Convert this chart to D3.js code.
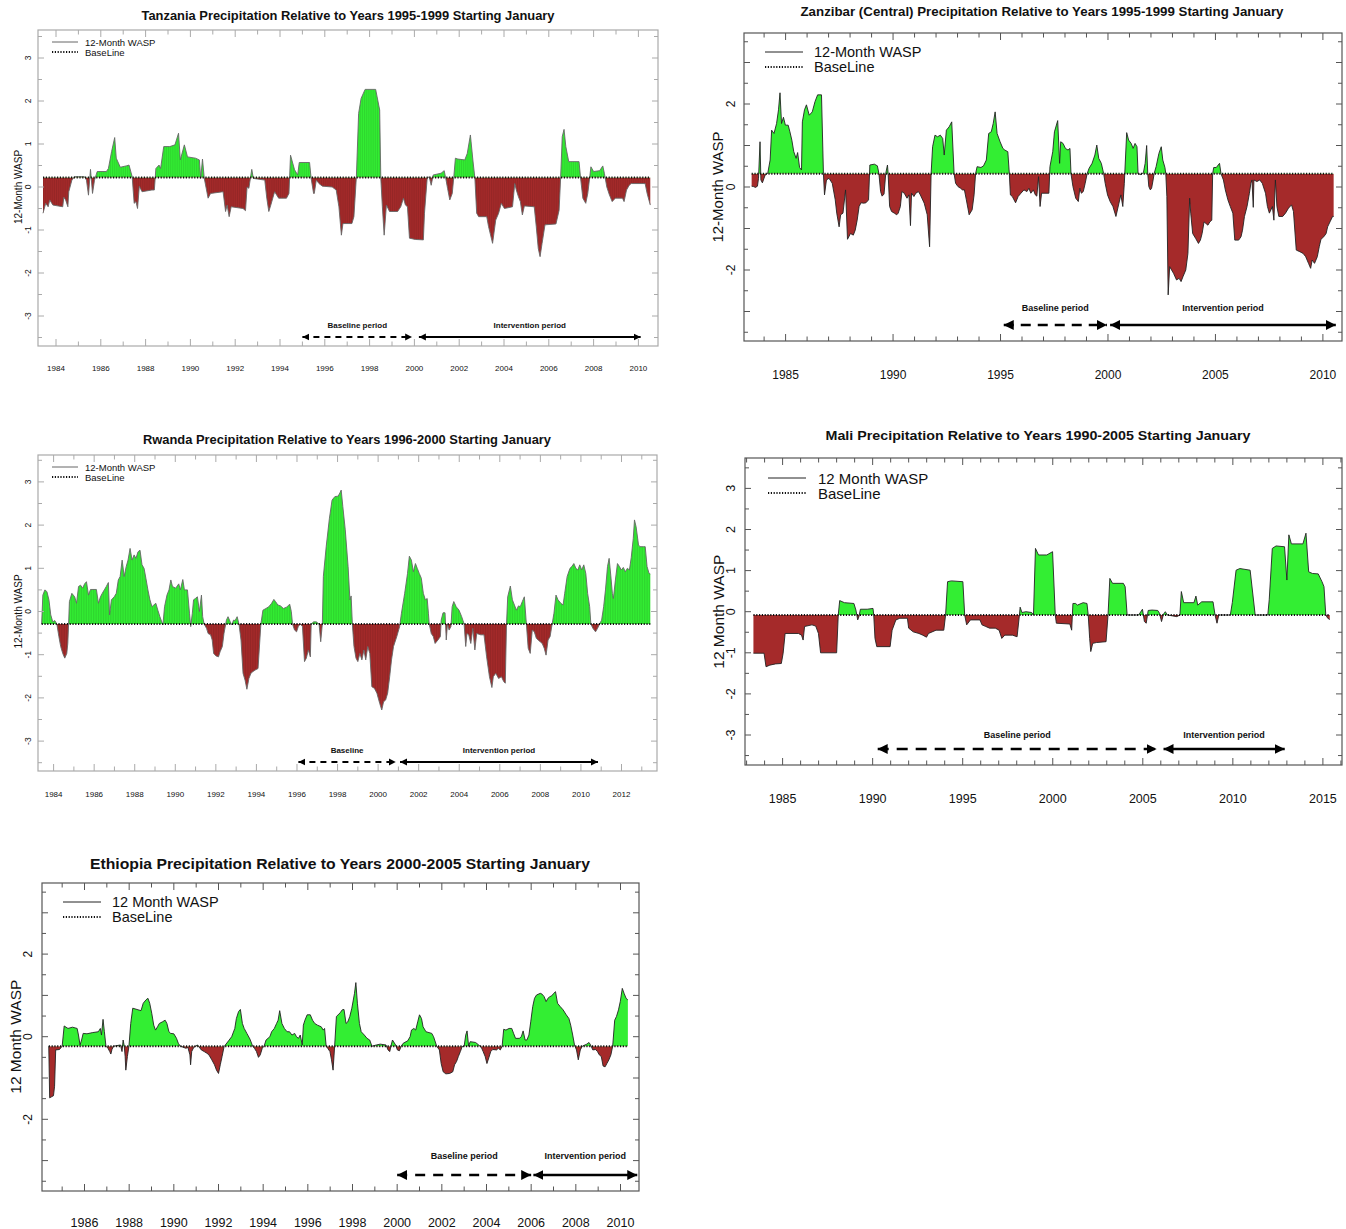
<!DOCTYPE html>
<html>
<head>
<meta charset="utf-8">
<script src="https://cdn.jsdelivr.net/npm/d3@7"></script>
<style>
  body { margin: 0; background: #fff; }
  svg { display: block; }
  text { font-family: "Liberation Sans", Arial, Helvetica, sans-serif; }
</style>
</head>
<body>
<svg id="chart" width="1346" height="1229"></svg>
<script>
// ---- data (year, 12-month WASP) ----
const tzYears = [1983.42,1983.54,1983.65,1983.72,1983.86,1984.30,1984.35,1984.43,1984.53,1984.57,1984.71,1984.83,1985.27,1985.36,1985.45,1985.54,1985.63,1985.72,1985.84,1986.25,1986.34,1986.48,1986.62,1986.69,1986.87,1987.13,1987.26,1987.40,1987.49,1987.57,1987.64,1987.72,1987.84,1988.28,1988.39,1988.46,1988.60,1988.67,1988.81,1989.08,1989.31,1989.47,1989.55,1989.73,1989.87,1990.23,1990.40,1990.46,1990.54,1990.62,1990.72,1990.79,1990.90,1991.46,1991.57,1991.64,1991.73,1991.82,1992.35,1992.46,1992.53,1992.61,1992.74,1992.81,1993.32,1993.41,1993.50,1993.59,1993.76,1993.94,1994.29,1994.40,1994.47,1994.65,1994.79,1994.86,1995.32,1995.39,1995.50,1995.53,1995.62,1995.74,1995.89,1996.33,1996.51,1996.63,1996.74,1996.81,1997.21,1997.30,1997.41,1997.51,1997.62,1997.80,1998.27,1998.45,1998.50,1998.57,1998.65,1998.75,1998.89,1999.25,1999.39,1999.51,1999.60,1999.69,1999.78,2000.04,2000.40,2000.45,2000.57,2000.66,2000.75,2000.84,2001.19,2001.33,2001.40,2001.48,2001.58,2001.69,2001.76,2001.83,2001.94,2002.25,2002.36,2002.50,2002.61,2002.70,2002.78,2002.87,2003.23,2003.31,2003.49,2003.63,2003.76,2003.88,2004.02,2004.38,2004.48,2004.55,2004.64,2004.73,2004.82,2004.91,2005.35,2005.44,2005.53,2005.61,2005.70,2005.83,2006.32,2006.46,2006.53,2006.60,2006.68,2006.76,2006.89,2007.35,2007.42,2007.52,2007.65,2007.74,2007.83,2007.88,2008.00,2008.27,2008.41,2008.48,2008.59,2008.71,2008.83,2008.97,2009.29,2009.36,2009.47,2009.59,2009.68,2010.30,2010.39,2010.53];
const tzValues = [-0.61,-0.38,-0.46,-0.30,-0.42,-0.46,-0.24,-0.30,-0.46,-0.11,0.16,0.24,0.24,0.16,-0.19,0.41,-0.15,0.16,0.36,0.36,0.43,0.82,1.15,0.67,0.46,0.49,0.51,0.24,-0.38,-0.34,-0.50,0.02,-0.11,-0.07,-0.07,0.43,0.51,0.43,0.94,0.94,0.98,1.25,0.63,0.98,0.70,0.67,0.63,0.20,0.65,0.20,-0.07,-0.26,-0.15,-0.11,-0.57,-0.42,-0.69,-0.46,-0.50,-0.55,0.00,-0.03,0.41,0.20,0.16,-0.26,-0.57,-0.42,-0.11,-0.26,-0.26,-0.15,0.74,0.40,0.28,0.57,0.57,0.20,-0.15,-0.15,0.16,0.08,0.02,0.00,-0.07,-0.46,-1.12,-0.85,-0.85,-0.69,0.24,1.71,2.06,2.27,2.27,1.79,0.20,-0.46,-1.12,-0.42,-0.57,-0.57,-0.46,-0.26,-0.42,-0.46,-1.19,-1.22,-1.23,-0.61,0.20,0.24,0.04,0.28,0.32,0.38,0.20,-0.03,-0.30,-0.15,0.24,0.67,0.65,0.63,0.78,1.21,0.63,0.20,-0.61,-0.69,-0.69,-0.92,-1.31,-0.77,-0.61,-0.38,-0.50,-0.46,0.08,-0.07,-0.22,-0.34,-0.65,-0.44,-0.46,-0.92,-1.43,-1.62,-1.31,-0.88,-0.86,-0.54,0.24,1.17,1.34,0.94,0.59,0.59,0.20,-0.26,-0.38,-0.15,0.24,0.47,0.36,0.38,0.49,0.32,0.00,-0.19,-0.34,-0.26,-0.26,-0.34,-0.07,0.04,0.08,0.08,-0.15,-0.42];
const tzBaseline = 0.22;

const zzYears = [1983.42,1983.51,1983.60,1983.69,1983.74,1983.81,1983.85,1983.92,1984.05,1984.17,1984.28,1984.35,1984.46,1984.58,1984.67,1984.74,1984.81,1984.90,1984.99,1985.12,1985.20,1985.29,1985.38,1985.49,1985.56,1985.65,1985.74,1985.78,1985.88,1985.97,1986.10,1986.24,1986.37,1986.49,1986.67,1986.76,1986.81,1986.90,1987.02,1987.17,1987.31,1987.38,1987.49,1987.56,1987.67,1987.79,1987.88,1988.02,1988.15,1988.24,1988.33,1988.42,1988.51,1988.63,1988.74,1988.86,1988.92,1989.13,1989.27,1989.34,1989.42,1989.49,1989.58,1989.66,1989.74,1989.77,1989.84,1989.93,1990.06,1990.17,1990.24,1990.34,1990.41,1990.52,1990.65,1990.74,1990.81,1990.86,1990.97,1991.06,1991.18,1991.27,1991.45,1991.59,1991.70,1991.77,1991.84,1991.95,1992.07,1992.20,1992.31,1992.38,1992.48,1992.61,1992.73,1992.84,1992.91,1993.02,1993.14,1993.23,1993.32,1993.41,1993.54,1993.68,1993.77,1993.84,1993.91,1994.09,1994.21,1994.34,1994.45,1994.57,1994.66,1994.75,1994.84,1994.98,1995.11,1995.20,1995.34,1995.41,1995.46,1995.55,1995.70,1995.82,1995.95,1996.09,1996.23,1996.32,1996.41,1996.53,1996.62,1996.69,1996.77,1996.84,1996.91,1997.25,1997.30,1997.43,1997.51,1997.66,1997.75,1997.80,1997.91,1998.02,1998.14,1998.23,1998.28,1998.37,1998.50,1998.62,1998.69,1998.76,1998.85,1998.94,1999.03,1999.12,1999.26,1999.39,1999.48,1999.57,1999.69,1999.80,1999.87,1999.98,2000.10,2000.23,2000.37,2000.51,2000.60,2000.69,2000.76,2000.87,2000.96,2001.08,2001.17,2001.26,2001.35,2001.40,2001.53,2001.65,2001.73,2001.80,2001.85,2001.90,2001.97,2002.03,2002.10,2002.15,2002.24,2002.37,2002.48,2002.55,2002.65,2002.69,2002.74,2002.80,2002.87,2002.96,2003.05,2003.19,2003.31,2003.40,2003.49,2003.62,2003.72,2003.80,2003.85,2003.94,2004.08,2004.21,2004.30,2004.38,2004.47,2004.56,2004.65,2004.74,2004.83,2004.87,2004.92,2005.04,2005.19,2005.26,2005.37,2005.46,2005.58,2005.69,2005.81,2005.90,2006.08,2006.19,2006.26,2006.35,2006.47,2006.58,2006.65,2006.70,2006.76,2006.79,2006.93,2007.06,2007.18,2007.33,2007.42,2007.51,2007.65,2007.72,2007.79,2007.86,2007.95,2008.13,2008.26,2008.40,2008.54,2008.63,2008.76,2008.93,2009.08,2009.20,2009.33,2009.43,2009.50,2009.61,2009.74,2009.83,2009.91,2010.04,2010.15,2010.22,2010.33,2010.45,2010.50];
const zzValues = [0.02,0.01,-0.01,0.02,0.21,1.09,0.17,0.10,0.29,0.33,0.65,1.37,1.29,1.53,1.86,2.27,1.53,1.68,1.49,1.49,1.33,1.13,0.85,0.69,0.83,0.47,0.41,1.57,1.86,1.98,1.73,1.81,2.06,2.22,2.22,0.32,-0.19,0.17,0.21,0.09,-0.31,-0.63,-0.96,-0.67,-0.63,-0.07,-1.26,-1.12,-1.16,-1.04,-0.80,-0.47,-0.38,-0.39,-0.38,-0.31,0.53,0.55,0.51,0.33,-0.11,-0.22,-0.17,0.33,0.53,0.33,-0.47,-0.59,-0.63,-0.67,-0.63,-0.47,-0.11,-0.15,-0.27,-0.19,-0.93,-0.15,-0.23,-0.15,-0.11,-0.19,-0.39,-0.67,-1.44,0.32,0.97,1.25,1.21,1.25,1.17,0.77,1.37,1.45,1.57,0.32,0.09,0.01,-0.03,-0.07,-0.07,-0.31,-0.67,-0.55,-0.19,0.32,0.49,0.47,0.51,0.65,1.29,1.33,1.53,1.81,1.29,1.09,0.93,0.89,0.85,0.32,-0.19,-0.23,-0.38,-0.23,-0.15,-0.07,-0.11,-0.03,-0.15,-0.07,-0.19,-0.22,0.25,-0.47,-0.15,-0.15,0.49,0.85,1.33,1.60,0.57,1.09,1.05,0.93,0.89,0.93,0.32,0.01,-0.27,-0.35,-0.03,-0.15,-0.11,0.09,0.32,0.45,0.57,0.77,1.01,0.69,0.57,0.32,0.09,-0.19,-0.35,-0.47,-0.71,-0.39,-0.19,-0.47,0.09,1.31,1.13,1.05,0.93,1.05,0.97,0.32,0.30,0.35,0.57,1.00,0.32,0.01,-0.07,-0.03,0.17,0.33,0.49,0.81,0.97,0.65,0.47,0.32,-0.23,-2.60,-1.92,-2.00,-2.08,-2.24,-2.20,-2.28,-2.16,-2.00,-1.60,-0.27,-0.63,-1.12,-1.24,-1.36,-1.28,-1.12,-0.84,-0.88,-0.92,-0.84,-0.80,0.32,0.47,0.47,0.57,0.32,0.17,-0.07,-0.31,-0.47,-0.63,-1.28,-1.28,-1.20,-1.04,-0.71,-0.47,-0.15,0.09,0.17,-0.49,0.17,0.13,0.17,0.09,-0.15,-0.47,-0.63,-0.47,-0.80,0.17,-0.47,-0.71,-0.71,-0.63,-0.51,-0.43,-0.59,-1.52,-1.56,-1.60,-1.68,-1.84,-1.96,-1.76,-1.84,-1.68,-1.44,-1.26,-1.20,-1.12,-0.96,-0.84,-0.71,-0.71];
const zzBaseline = 0.32;

const rwYears = [1983.41,1983.47,1983.57,1983.67,1983.77,1983.86,1983.96,1984.06,1984.16,1984.26,1984.35,1984.45,1984.55,1984.65,1984.70,1984.74,1984.78,1984.90,1985.04,1985.13,1985.23,1985.33,1985.43,1985.53,1985.62,1985.72,1985.82,1986.11,1986.21,1986.31,1986.40,1986.50,1986.60,1986.70,1986.76,1986.85,1986.99,1987.09,1987.19,1987.28,1987.38,1987.48,1987.58,1987.67,1987.77,1987.87,1987.97,1988.06,1988.16,1988.26,1988.36,1988.46,1988.55,1988.65,1988.75,1988.85,1988.94,1989.04,1989.14,1989.24,1989.39,1989.47,1989.59,1989.69,1989.78,1989.86,1990.02,1990.17,1990.25,1990.37,1990.45,1990.60,1990.70,1990.76,1990.84,1990.90,1990.99,1991.09,1991.19,1991.29,1991.35,1991.42,1991.54,1991.62,1991.74,1991.82,1991.89,1992.01,1992.13,1992.21,1992.32,1992.40,1992.52,1992.60,1992.71,1992.79,1992.87,1992.95,1993.05,1993.14,1993.24,1993.34,1993.44,1993.53,1993.63,1993.73,1993.83,1993.96,1994.08,1994.22,1994.32,1994.47,1994.61,1994.75,1994.86,1994.94,1995.06,1995.19,1995.33,1995.49,1995.64,1995.72,1995.78,1995.88,1995.98,1996.07,1996.17,1996.27,1996.37,1996.46,1996.56,1996.66,1996.70,1996.82,1996.95,1997.09,1997.17,1997.25,1997.30,1997.44,1997.60,1997.73,1997.87,1998.03,1998.12,1998.18,1998.26,1998.38,1998.52,1998.61,1998.67,1998.73,1998.81,1998.91,1999.00,1999.10,1999.20,1999.30,1999.39,1999.49,1999.59,1999.69,1999.82,1999.94,2000.08,2000.18,2000.27,2000.37,2000.47,2000.57,2000.66,2000.76,2000.92,2001.06,2001.15,2001.31,2001.45,2001.54,2001.64,2001.74,2001.84,2001.93,2002.03,2002.13,2002.23,2002.33,2002.42,2002.48,2002.52,2002.62,2002.72,2002.81,2002.95,2003.07,2003.11,2003.20,2003.30,2003.36,2003.42,2003.50,2003.59,2003.65,2003.73,2003.85,2003.99,2004.12,2004.24,2004.32,2004.38,2004.47,2004.57,2004.67,2004.77,2004.86,2005.06,2005.22,2005.35,2005.49,2005.61,2005.68,2005.80,2005.94,2006.08,2006.19,2006.27,2006.33,2006.39,2006.52,2006.62,2006.72,2006.82,2006.92,2007.01,2007.11,2007.21,2007.31,2007.40,2007.50,2007.60,2007.70,2007.80,2007.89,2007.99,2008.09,2008.19,2008.28,2008.38,2008.48,2008.58,2008.67,2008.77,2008.87,2009.01,2009.12,2009.20,2009.32,2009.46,2009.55,2009.65,2009.75,2009.85,2009.94,2010.04,2010.14,2010.24,2010.33,2010.43,2010.49,2010.59,2010.72,2010.82,2010.92,2011.02,2011.12,2011.21,2011.31,2011.39,2011.47,2011.55,2011.60,2011.70,2011.80,2011.90,2011.99,2012.09,2012.19,2012.29,2012.39,2012.48,2012.58,2012.64,2012.72,2012.84,2012.91,2013.07,2013.17,2013.26,2013.36,2013.42];
const rwValues = [-0.29,0.38,0.50,0.46,0.27,-0.08,-0.24,-0.21,-0.29,-0.58,-0.81,-0.97,-1.08,-0.97,-0.74,-0.29,0.23,0.42,0.34,0.19,0.58,0.61,0.54,0.64,0.69,0.38,0.51,0.51,0.19,0.34,0.42,0.50,0.58,0.67,-0.08,0.27,0.34,0.42,0.73,0.81,1.19,0.81,1.04,1.19,1.46,1.19,1.31,1.23,1.38,1.42,1.08,1.00,0.77,0.50,0.27,0.11,0.15,0.19,0.03,-0.12,-0.31,0.11,0.38,0.50,0.73,0.58,0.54,0.64,0.50,0.74,0.50,0.50,-0.04,-0.35,-0.04,0.27,0.30,0.34,0.00,0.38,-0.12,-0.29,-0.39,-0.51,-0.54,-0.66,-0.97,-1.03,-1.05,-0.93,-0.81,-0.51,-0.20,-0.12,-0.24,-0.31,-0.20,-0.21,-0.12,-0.29,-0.66,-1.43,-1.59,-1.80,-1.55,-1.43,-1.39,-1.35,-1.32,-0.29,0.03,0.07,0.11,0.19,0.28,0.23,0.15,0.13,0.07,0.10,0.17,0.00,-0.29,-0.43,-0.47,-0.34,-0.29,-0.35,-1.16,-1.08,-0.89,-1.05,-0.29,-0.24,-0.24,-0.29,-0.70,-0.29,0.81,1.50,2.16,2.58,2.66,2.67,2.75,2.81,2.43,1.89,1.04,0.27,0.36,-0.29,-0.81,-1.08,-1.16,-0.97,-1.12,-0.89,-1.12,-0.81,-0.97,-1.74,-1.78,-1.89,-2.13,-2.28,-2.09,-2.05,-1.89,-1.51,-1.12,-0.81,-0.58,-0.35,-0.04,0.42,0.88,1.28,1.19,0.92,1.11,1.00,0.88,0.77,0.42,0.27,0.30,-0.04,-0.29,-0.51,-0.58,-0.74,-0.66,-0.58,-0.20,-0.03,-0.03,-0.66,-0.29,-0.43,-0.35,0.11,0.23,0.11,0.03,-0.12,-0.29,-0.81,-0.51,-0.54,-0.74,-0.39,-0.89,-0.51,-0.54,-0.54,-1.05,-1.51,-1.76,-1.51,-1.43,-1.55,-1.51,-1.62,-1.66,-0.29,0.34,0.59,0.27,0.15,0.03,0.13,0.11,0.23,0.34,-0.29,-0.85,-0.97,-0.43,-0.47,-0.62,-0.66,-0.70,-0.74,-0.85,-1.01,-0.66,-0.58,-0.29,-0.04,0.38,0.27,0.19,0.15,0.42,0.81,1.00,1.04,1.11,1.00,0.96,1.08,0.96,1.08,0.88,0.42,0.11,-0.29,-0.39,-0.47,-0.39,-0.29,-0.20,0.11,0.50,1.04,1.23,0.84,0.42,0.30,0.73,1.11,1.04,0.96,1.02,0.92,1.00,0.96,1.25,1.69,2.12,1.96,1.54,1.50,1.50,1.50,1.04,0.88,0.87];
const rwBaseline = -0.29;

const mlYears = [1983.38,1983.97,1984.08,1984.29,1984.61,1984.93,1985.03,1985.14,1985.88,1986.05,1986.14,1986.22,1986.63,1986.84,1986.99,1987.11,1988.00,1988.09,1988.17,1988.43,1988.96,1989.07,1989.17,1989.24,1989.32,1989.70,1990.02,1990.06,1990.13,1990.23,1990.97,1991.08,1991.29,1991.51,1991.93,1992.00,1992.25,1992.57,1992.78,1992.99,1993.10,1993.52,1993.95,1994.05,1994.16,1994.37,1995.01,1995.11,1995.22,1995.43,1995.96,1996.07,1996.28,1996.49,1996.81,1997.02,1997.17,1997.34,1997.76,1998.02,1998.15,1998.19,1998.29,1998.51,1998.83,1998.93,1999.04,1999.21,1999.67,1999.99,2000.14,2000.20,2000.95,2001.05,2001.12,2001.27,2001.37,2001.69,2001.90,2001.97,2002.05,2002.11,2002.22,2002.43,2002.96,2003.07,2003.17,2003.32,2003.92,2004.02,2004.13,2004.77,2004.98,2005.09,2005.19,2005.30,2005.51,2005.83,2005.93,2006.04,2006.15,2006.25,2006.36,2006.89,2007.06,2007.14,2007.27,2007.84,2007.95,2008.05,2008.27,2008.90,2009.01,2009.12,2009.22,2009.86,2009.97,2010.18,2010.39,2010.96,2011.24,2011.94,2012.02,2012.19,2012.40,2012.87,2013.00,2013.11,2013.25,2013.89,2014.06,2014.21,2014.42,2014.74,2014.95,2015.06,2015.16,2015.27,2015.38];
const mlValues = [-1.01,-1.01,-1.34,-1.30,-1.27,-1.26,-1.01,-0.53,-0.53,-0.57,-0.69,-0.36,-0.32,-0.35,-0.53,-1.00,-1.00,-0.08,0.27,0.22,0.20,0.04,-0.20,-0.12,0.06,0.06,0.08,-0.08,-0.65,-0.85,-0.85,-0.45,-0.20,-0.16,-0.16,-0.40,-0.49,-0.53,-0.57,-0.62,-0.53,-0.45,-0.45,-0.08,0.73,0.75,0.73,-0.08,-0.32,-0.20,-0.20,-0.32,-0.36,-0.40,-0.40,-0.45,-0.65,-0.57,-0.57,-0.61,-0.08,0.11,-0.02,0.00,-0.02,-0.08,1.54,1.38,1.38,1.46,-0.08,-0.28,-0.30,-0.45,0.20,0.20,0.16,0.22,0.20,-0.08,-0.65,-0.97,-0.77,-0.75,-0.73,-0.08,0.81,0.69,0.69,0.61,-0.08,-0.08,0.06,-0.24,-0.28,0.03,0.04,0.03,-0.04,-0.24,-0.06,0.00,-0.08,-0.12,-0.08,0.49,0.22,0.22,0.38,0.16,0.24,0.24,-0.08,-0.28,-0.08,-0.08,0.22,1.01,1.05,1.01,-0.08,-0.08,0.29,1.54,1.60,1.58,0.77,1.87,1.65,1.65,1.91,0.97,0.93,0.92,0.73,0.61,-0.08,-0.16,-0.19];
const mlBaseline = -0.08;

const etYears = [1984.40,1984.44,1984.54,1984.61,1984.66,1984.71,1984.88,1985.00,1985.09,1985.26,1985.46,1985.67,1985.73,1985.80,1985.87,1985.94,1986.11,1986.37,1986.62,1986.71,1986.76,1986.83,1986.89,1986.96,1987.05,1987.13,1987.18,1987.23,1987.30,1987.61,1987.68,1987.73,1987.78,1987.82,1987.85,1987.92,1987.99,1988.07,1988.16,1988.53,1988.63,1988.75,1988.84,1988.92,1989.01,1989.10,1989.18,1989.27,1989.35,1989.49,1989.61,1989.69,1989.78,1989.86,1990.00,1990.12,1990.20,1990.29,1990.54,1990.63,1990.72,1990.75,1990.80,1990.89,1991.06,1991.23,1991.36,1991.48,1991.57,1991.70,1991.82,1991.91,1992.00,1992.08,1992.16,1992.25,1992.45,1992.59,1992.73,1992.80,1992.90,1992.98,1993.07,1993.15,1993.27,1993.41,1993.53,1993.61,1993.70,1993.79,1993.87,1993.96,1994.04,1994.13,1994.30,1994.38,1994.50,1994.60,1994.67,1994.74,1994.84,1994.95,1995.07,1995.18,1995.29,1995.41,1995.49,1995.58,1995.66,1995.75,1995.80,1995.87,1995.97,1996.11,1996.21,1996.31,1996.43,1996.60,1996.69,1996.75,1996.82,1996.89,1996.99,1997.06,1997.13,1997.20,1997.28,1997.45,1997.54,1997.62,1997.71,1997.79,1997.88,1997.97,1998.09,1998.15,1998.22,1998.31,1998.39,1998.53,1998.65,1998.77,1998.87,1999.07,1999.24,1999.50,1999.59,1999.67,1999.72,1999.79,1999.93,2000.01,2000.10,2000.18,2000.27,2000.47,2000.58,2000.64,2000.75,2000.83,2000.92,2001.00,2001.09,2001.16,2001.29,2001.55,2001.63,2001.77,2001.89,2001.97,2002.06,2002.18,2002.35,2002.49,2002.57,2002.66,2002.74,2002.83,2002.91,2003.00,2003.07,2003.13,2003.20,2003.27,2003.51,2003.65,2003.77,2003.85,2003.94,2004.02,2004.11,2004.19,2004.28,2004.45,2004.53,2004.62,2004.70,2004.77,2004.87,2005.01,2005.13,2005.22,2005.30,2005.47,2005.56,2005.64,2005.73,2005.81,2005.90,2005.98,2006.07,2006.15,2006.24,2006.41,2006.49,2006.58,2006.67,2006.75,2006.84,2006.92,2007.01,2007.09,2007.18,2007.30,2007.43,2007.57,2007.69,2007.77,2007.86,2007.94,2008.03,2008.11,2008.20,2008.29,2008.49,2008.59,2008.66,2008.76,2008.88,2008.97,2009.05,2009.14,2009.22,2009.31,2009.39,2009.48,2009.57,2009.65,2009.74,2009.82,2009.91,2009.99,2010.08,2010.16,2010.25,2010.33];
const etValues = [-0.23,-1.48,-1.45,-1.43,-1.20,-0.32,-0.31,-0.23,0.26,0.20,0.23,0.20,0.04,-0.20,-0.08,0.08,0.07,0.10,0.12,0.20,0.04,0.42,0.12,-0.23,-0.28,-0.36,-0.42,-0.31,-0.23,-0.20,-0.36,-0.08,-0.23,-0.48,-0.81,-0.48,-0.23,0.32,0.69,0.63,0.81,0.89,0.93,0.81,0.57,0.28,0.16,0.24,0.32,0.36,0.40,0.32,0.12,0.08,0.07,-0.04,-0.16,-0.23,-0.28,-0.26,-0.44,-0.68,-0.36,-0.26,-0.20,-0.32,-0.36,-0.40,-0.44,-0.56,-0.68,-0.81,-0.89,-0.68,-0.48,-0.24,-0.10,0.00,0.20,0.44,0.61,0.66,0.32,0.20,0.08,-0.06,-0.23,-0.28,-0.36,-0.50,-0.44,-0.28,-0.23,-0.08,0.00,0.12,0.20,0.32,0.40,0.63,0.32,0.20,0.12,0.12,0.04,0.08,0.00,-0.04,0.04,-0.20,0.28,0.40,0.53,0.53,0.40,0.32,0.28,0.24,0.16,0.20,-0.23,-0.28,-0.36,-0.56,-0.81,-0.23,0.49,0.58,0.65,0.66,0.32,0.36,0.49,0.69,1.05,1.31,0.81,0.32,0.12,0.04,-0.04,-0.08,-0.23,-0.20,-0.18,-0.20,-0.32,-0.36,-0.23,-0.08,-0.20,-0.32,-0.34,-0.23,-0.16,-0.10,0.00,0.16,0.20,0.16,0.36,0.53,0.44,0.24,0.12,0.08,0.00,-0.23,-0.32,-0.65,-0.85,-0.90,-0.89,-0.85,-0.68,-0.60,-0.48,-0.36,-0.24,-0.23,0.04,0.14,-0.23,-0.12,-0.14,-0.20,-0.26,-0.36,-0.48,-0.65,-0.50,-0.36,-0.31,-0.32,-0.28,-0.32,-0.23,0.18,0.16,0.20,0.20,0.07,-0.04,-0.04,0.00,0.14,-0.08,-0.08,0.04,0.36,0.73,0.93,1.01,1.05,1.03,0.97,0.85,0.93,0.97,0.99,1.05,1.09,0.81,0.73,0.65,0.53,0.44,0.28,0.04,-0.20,-0.32,-0.56,-0.32,-0.23,-0.18,-0.14,-0.20,-0.32,-0.31,-0.36,-0.44,-0.48,-0.71,-0.73,-0.65,-0.56,-0.44,-0.23,0.40,0.49,0.65,0.85,1.17,1.05,0.93,0.89];
const etBaseline = -0.23;

// tick labels
const tzXLabels = d3.range(1984, 2011, 2);
const zzXLabels = [1985, 1990, 1995, 2000, 2005, 2010];
const rwXLabels = d3.range(1984, 2013, 2);
const mlXLabels = [1985, 1990, 1995, 2000, 2005, 2010, 2015];
const etXLabels = d3.range(1986, 2011, 2);
const yLabelsFull = [-3, -2, -1, 0, 1, 2, 3];
const yLabelsSparse = [-2, 0, 2];

// period arrows (years) and their labels
const tzPeriods = [[1995.0, 1999.9], [2000.2, 2010.1]];
const zzPeriods = [[1995.15, 1999.95], [2000.1, 2010.6]];
const rwPeriods = [[1996.07, 2000.87], [2001.08, 2010.84]];
const mlPeriods = [[1990.28, 2005.77], [2006.15, 2012.88]];
const etPeriods = [[2000.0, 2006.0], [2006.1, 2010.75]];

const GREEN = "#33ee33";
const RED = "#a52a2a";

const svg = d3.select("#chart");
svg.append("rect").attr("width", 1346).attr("height", 1229).attr("fill", "#fff");
const defs = svg.append("defs");

const panels = [
  { id: "tz", title: "Tanzania Precipitation Relative to Years 1995-1999 Starting January",
    years: tzYears, values: tzValues, base: tzBaseline, xLabels: tzXLabels, yLabels: yLabelsFull,
    periods: tzPeriods, periodNames: ["Baseline period", "Intervention period"],
    box: { l: 38, r: 658, t: 30, b: 346 }, xDom: [1984, 2010], xRng: [56, 638.4], y0: 187, unit: 43,
    titleAt: [348, 16, 12, 413], yTitle: ["12-Month WASP", 18, 10], yLab: [28, 8.5], xLab: [368, 8],
    legend: { x1: 52, x2: 78, tx: 85, y1: 42, y2: 52, size: 9.5, name: "12-Month WASP" },
    arrow: { ty: 325, y: 337, size: 8, head: 7, dash: "6,5", w: 2 },
    frame: "#aaa", outline: "#666", stripes: true },
  { id: "zz", title: "Zanzibar (Central) Precipitation Relative to Years 1995-1999 Starting January",
    years: zzYears, values: zzValues, base: zzBaseline, xLabels: zzXLabels, yLabels: yLabelsSparse,
    periods: zzPeriods, periodNames: ["Baseline period", "Intervention period"],
    box: { l: 744, r: 1342, t: 33, b: 341 }, xDom: [1985, 2010], xRng: [785.6, 1322.9], y0: 187, unit: 41.5,
    titleAt: [1042, 11, 13, 483], yTitle: ["12-Month WASP", 717, 15], yLab: [731, 12], xLab: [375, 12],
    legend: { x1: 765, x2: 803, tx: 814, y1: 52, y2: 67, size: 14.5, name: "12-Month WASP" },
    arrow: { ty: 308, y: 325, size: 9, head: 10, dash: "10,7", w: 2.5 },
    frame: "#555", outline: "#222", stripes: false },
  { id: "rw", title: "Rwanda Precipitation Relative to Years 1996-2000 Starting January",
    years: rwYears, values: rwValues, base: rwBaseline, xLabels: rwXLabels, yLabels: yLabelsFull,
    periods: rwPeriods, periodNames: ["Baseline", "Intervention period"],
    box: { l: 38, r: 657, t: 455, b: 771 }, xDom: [1984, 2012], xRng: [53.6, 621.5], y0: 611.5, unit: 43.2,
    titleAt: [347, 440, 12, 408], yTitle: ["12-Month WASP", 18, 10], yLab: [28, 8.5], xLab: [794, 8],
    legend: { x1: 52, x2: 78, tx: 85, y1: 467, y2: 477, size: 9.5, name: "12-Month WASP" },
    arrow: { ty: 750, y: 762, size: 8, head: 7, dash: "6,5", w: 2 },
    frame: "#aaa", outline: "#666", stripes: true },
  { id: "ml", title: "Mali Precipitation Relative to Years 1990-2005 Starting January",
    years: mlYears, values: mlValues, base: mlBaseline, xLabels: mlXLabels, yLabels: yLabelsFull,
    periods: mlPeriods, periodNames: ["Baseline period", "Intervention period"],
    box: { l: 745, r: 1342, t: 458, b: 765 }, xDom: [1985, 2015], xRng: [782.6, 1322.9], y0: 611.7, unit: 41.1,
    titleAt: [1038, 435, 13.5, 425], yTitle: ["12 Month WASP", 718, 15.5], yLab: [731, 12.5], xLab: [799, 12.5],
    legend: { x1: 768, x2: 806, tx: 818, y1: 478, y2: 493, size: 15, name: "12 Month WASP" },
    arrow: { ty: 735, y: 749, size: 9, head: 10, dash: "11,8", w: 2.5 },
    frame: "#555", outline: "#222", stripes: false },
  { id: "et", title: "Ethiopia Precipitation Relative to Years 2000-2005 Starting January",
    years: etYears, values: etValues, base: etBaseline, xLabels: etXLabels, yLabels: yLabelsSparse,
    periods: etPeriods, periodNames: ["Baseline period", "Intervention period"],
    box: { l: 42, r: 639, t: 883, b: 1191 }, xDom: [1986, 2010], xRng: [84.5, 620.5], y0: 1036.7, unit: 41.3,
    titleAt: [340, 863, 15, 500], yTitle: ["12 Month WASP", 15, 15.5], yLab: [28, 12], xLab: [1223, 12.5],
    legend: { x1: 63, x2: 101, tx: 112, y1: 902, y2: 917, size: 14.5, name: "12 Month WASP" },
    arrow: { ty: 1156, y: 1175, size: 9, head: 10, dash: "10,8", w: 2.5 },
    frame: "#555", outline: "#222", stripes: false }
];

panels.forEach(drawPanel);

function drawPanel(p) {
  const g = svg.append("g").attr("id", p.id);
  const x = d3.scaleLinear().domain(p.xDom).range(p.xRng);
  const y = d3.scaleLinear().domain([0, 1]).range([p.y0, p.y0 - p.unit]);
  const b = p.box;
  const yb = y(p.base);
  const data = p.years.map((yr, i) => ({ yr: yr, v: p.values[i] }));

  // clip regions above / below the baseline
  defs.append("clipPath").attr("id", p.id + "-up")
    .append("rect").attr("x", b.l).attr("y", b.t).attr("width", b.r - b.l).attr("height", yb - b.t);
  defs.append("clipPath").attr("id", p.id + "-dn")
    .append("rect").attr("x", b.l).attr("y", yb).attr("width", b.r - b.l).attr("height", b.b - yb);

  const area = d3.area().x(d => x(d.yr)).y0(yb).y1(d => y(d.v));
  g.append("path").attr("d", area(data)).attr("fill", GREEN).attr("clip-path", `url(#${p.id}-up)`);
  g.append("path").attr("d", area(data)).attr("fill", RED).attr("clip-path", `url(#${p.id}-dn)`);

  // monthly bar texture (the older plots were drawn as thin monthly bars)
  if (p.stripes) {
    const step = (x(p.xDom[0] + 1) - x(p.xDom[0])) / 12;
    const pat = defs.append("pattern").attr("id", p.id + "-bars")
      .attr("patternUnits", "userSpaceOnUse").attr("width", step).attr("height", 10);
    pat.append("rect").attr("x", 0).attr("y", 0).attr("width", 0.55).attr("height", 10)
      .attr("fill", "rgba(0,0,0,0.16)");
    g.append("path").attr("d", area(data)).attr("fill", `url(#${p.id}-bars)`);
  }

  const line = d3.line().x(d => x(d.yr)).y(d => y(d.v));
  g.append("path").attr("d", line(data)).attr("fill", "none")
    .attr("stroke", p.outline).attr("stroke-width", 0.9).attr("stroke-linejoin", "round");

  // dotted baseline
  g.append("line")
    .attr("x1", x(p.years[0])).attr("x2", x(p.years[p.years.length - 1]))
    .attr("y1", yb).attr("y2", yb)
    .attr("stroke", "#111").attr("stroke-width", 2).attr("stroke-dasharray", "1.2,1.6");

  // frame
  g.append("rect").attr("x", b.l).attr("y", b.t).attr("width", b.r - b.l).attr("height", b.b - b.t)
    .attr("fill", "none").attr("stroke", p.frame).attr("stroke-width", 1.2);

  // inward ticks: every year on x, every 0.5 on y
  const yearTicks = d3.range(Math.ceil(x.invert(b.l)), Math.floor(x.invert(b.r)) + 1);
  const labelled = new Set(p.xLabels);
  const tickG = g.append("g").attr("stroke", p.frame).attr("stroke-width", 1);
  yearTicks.forEach(t => {
    const len = labelled.has(t) ? 7 : 4.5;
    tickG.append("line").attr("x1", x(t)).attr("x2", x(t)).attr("y1", b.b).attr("y2", b.b - len);
    tickG.append("line").attr("x1", x(t)).attr("x2", x(t)).attr("y1", b.t).attr("y2", b.t + len);
  });
  d3.range(-3.5, 3.51, 0.5).filter(v => y(v) > b.t + 2 && y(v) < b.b - 2).forEach(v => {
    const len = Number.isInteger(v) ? 6 : 4;
    tickG.append("line").attr("x1", b.l).attr("x2", b.l + len).attr("y1", y(v)).attr("y2", y(v));
    tickG.append("line").attr("x1", b.r).attr("x2", b.r - len).attr("y1", y(v)).attr("y2", y(v));
  });

  // x labels
  g.selectAll(".xl").data(p.xLabels).join("text")
    .attr("x", d => x(d)).attr("y", p.xLab[0])
    .attr("text-anchor", "middle").attr("dominant-baseline", "central")
    .attr("font-size", p.xLab[1]).attr("fill", "#111").text(d => d);

  // y labels (rotated, R style)
  g.selectAll(".yl").data(p.yLabels).join("text")
    .attr("transform", d => `translate(${p.yLab[0]},${y(d)}) rotate(-90)`)
    .attr("text-anchor", "middle").attr("dominant-baseline", "central")
    .attr("font-size", p.yLab[1]).attr("fill", "#111").text(d => d);

  g.append("text")
    .attr("transform", `translate(${p.yTitle[1]},${p.y0}) rotate(-90)`)
    .attr("text-anchor", "middle").attr("dominant-baseline", "central")
    .attr("font-size", p.yTitle[2]).attr("fill", "#111").text(p.yTitle[0]);

  // title
  g.append("text").attr("x", p.titleAt[0]).attr("y", p.titleAt[1])
    .attr("text-anchor", "middle").attr("dominant-baseline", "central")
    .attr("font-size", p.titleAt[2]).attr("font-weight", "bold").attr("fill", "#111")
    .attr("textLength", p.titleAt[3]).attr("lengthAdjust", "spacingAndGlyphs")
    .text(p.title);

  // legend
  const L = p.legend;
  g.append("line").attr("x1", L.x1).attr("x2", L.x2).attr("y1", L.y1).attr("y2", L.y1)
    .attr("stroke", p.outline).attr("stroke-width", 1);
  g.append("line").attr("x1", L.x1).attr("x2", L.x2).attr("y1", L.y2).attr("y2", L.y2)
    .attr("stroke", "#111").attr("stroke-width", 2).attr("stroke-dasharray", "1.2,1.6");
  g.append("text").attr("x", L.tx).attr("y", L.y1).attr("dominant-baseline", "central")
    .attr("font-size", L.size).attr("fill", "#111").text(L.name);
  g.append("text").attr("x", L.tx).attr("y", L.y2).attr("dominant-baseline", "central")
    .attr("font-size", L.size).attr("fill", "#111").text("BaseLine");

  // period arrows
  const A = p.arrow;
  const mk = defs.append("marker").attr("id", p.id + "-head")
    .attr("viewBox", "0 0 10 10").attr("refX", 10).attr("refY", 5)
    .attr("markerUnits", "userSpaceOnUse")
    .attr("markerWidth", A.head).attr("markerHeight", A.head * 1.1)
    .attr("orient", "auto-start-reverse");
  mk.append("path").attr("d", "M0,0L10,5L0,10Z").attr("fill", "#000");

  p.periods.forEach((pr, i) => {
    const x1 = x(pr[0]), x2 = x(pr[1]);
    g.append("line").attr("x1", x1).attr("x2", x2).attr("y1", A.y).attr("y2", A.y)
      .attr("stroke", "#000").attr("stroke-width", A.w)
      .attr("stroke-dasharray", i === 0 ? A.dash : null)
      .attr("marker-start", `url(#${p.id}-head)`).attr("marker-end", `url(#${p.id}-head)`);
    g.append("text").attr("x", (x1 + x2) / 2).attr("y", A.ty)
      .attr("text-anchor", "middle").attr("dominant-baseline", "central")
      .attr("font-size", A.size).attr("font-weight", "bold").attr("fill", "#111")
      .text(p.periodNames[i]);
  });
}
</script>
</body>
</html>
